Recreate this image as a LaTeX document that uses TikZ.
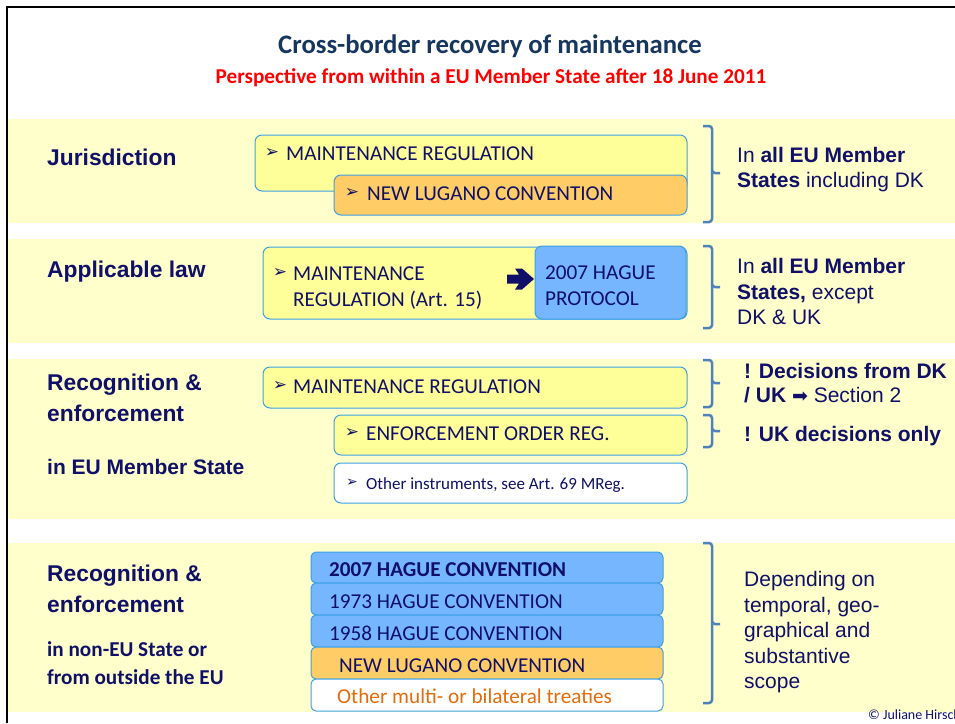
\documentclass[tikz,border=0pt]{standalone}
\usepackage{fontspec}
\setmainfont{Liberation Sans}
\newfontfamily\calfont{Carlito}
\newfontfamily\djvfont{DejaVu Sans}
\definecolor{txtnavy}{RGB}{16,16,104}
\definecolor{titleblue}{RGB}{23,54,93}
\definecolor{bandY}{RGB}{255,255,204}
\definecolor{boxY}{RGB}{255,255,153}
\definecolor{boxO}{RGB}{255,204,102}
\definecolor{boxB}{RGB}{117,182,255}
\definecolor{boxline}{RGB}{60,160,230}
\definecolor{bracecol}{RGB}{79,129,189}
\definecolor{orangetxt}{RGB}{228,108,10}
\begin{document}
\begin{tikzpicture}[x=1pt,y=-1pt,
  boxnode/.style={draw=boxline, line width=1pt, rounded corners=7pt, anchor=north west, inner sep=0pt, outer sep=0pt},
  lbl/.style={anchor=base west, inner sep=0pt, text=txtnavy, font=\bfseries\fontsize{22.8}{26}\selectfont},
  lblsmall/.style={anchor=base west, inner sep=0pt, text=txtnavy, font=\bfseries\fontsize{21}{25}\selectfont},
  lblcal/.style={anchor=base west, inner sep=0pt, text=txtnavy, font=\calfont\bfseries\fontsize{21.2}{25}\selectfont},
  boxtxt/.style={anchor=base west, inner sep=0pt, text=txtnavy, font=\calfont\fontsize{21.2}{24}\selectfont},
  rtxt/.style={anchor=base west, inner sep=0pt, text=txtnavy, font=\fontsize{21}{24}\selectfont},
  bullet/.style={anchor=center, inner sep=0pt, text=txtnavy, font=\djvfont\fontsize{17}{17}\selectfont},
  bracepath/.style={draw=bracecol, line width=2.5pt, rounded corners=3pt}
]
\useasboundingbox (0,0) rectangle (955,723);
\fill[white] (0,0) rectangle (955,723);

% bands
\fill[bandY] (8,119) rectangle (955,223);
\fill[bandY] (8,239) rectangle (955,343);
\fill[bandY] (8,359) rectangle (955,519);
\fill[bandY] (8,543) rectangle (955,712);

% frame
\draw[line width=2.5pt] (7,723) -- (7,7) -- (960,7);

% titles
\node[anchor=base, inner sep=0pt, text=titleblue, font=\calfont\bfseries\fontsize{26.7}{30}\selectfont] (title) at (490,53) {Cross-border recovery of maintenance};
\node[anchor=base, inner sep=0pt, text=red, font=\calfont\bfseries\fontsize{21.2}{24}\selectfont] (subtitle) at (491,83) {Perspective from within a EU Member State after 18 June 2011};

% ---------- Band 1: Jurisdiction
\node[lbl] (jur) at (47,165) {Jurisdiction};
\node[boxnode, fill=boxY, minimum width=432pt, minimum height=56pt] (j1) at (255,135) {};
\node[boxnode, fill=boxO, minimum width=353pt, minimum height=40pt] (j2) at (334,175) {};
\node[bullet] (j1b) at (272,153) {➢};
\node[boxtxt] (j1t) at (286,160) {MAINTENANCE REGULATION};
\node[bullet] (j2b) at (352,193) {➢};
\node[boxtxt] (j2t) at (367,200) {NEW LUGANO CONVENTION};
\draw[bracepath] (703,126) -- (712,126) -- (712,173) -- (720,173);
\draw[bracepath] (712,170) -- (712,222) -- (703,222);
\node[rtxt] (j3) at (737,162.5) {In \textbf{all EU Member}};
\node[rtxt] (j4) at (737,187.5) {\textbf{States} including DK};

% ---------- Band 2: Applicable law
\node[lbl] (app) at (47,277) {Applicable law};
\node[boxnode, fill=boxY, minimum width=424pt, minimum height=72pt] (a1) at (263,247) {};
\node[boxnode, fill=boxB, minimum width=151pt, minimum height=73pt] (a2) at (535,246) {};
\node[bullet] (a1b) at (280,273) {➢};
\node[boxtxt] (a1t) at (293,280) {MAINTENANCE};
\node[boxtxt] (a1u) at (293,306) {REGULATION (Art. 15)};
\coordinate (arrowbase) at (507,279);
\fill[txtnavy] (arrowbase) ++(0,-4.5) -- ++(12,0) -- ++(-4,-6) -- ++(7,0) -- ++(12,10.5)
   -- ++(-12,10.5) -- ++(-7,0) -- ++(4,-6) -- ++(-12,0) -- cycle;
\node[boxtxt] (a2t) at (545,279) {2007 HAGUE};
\node[boxtxt] (a2u) at (545,305) {PROTOCOL};
\draw[bracepath] (703,246) -- (712,246) -- (712,287) -- (720,287);
\draw[bracepath] (712,284) -- (712,328) -- (703,328);
\node[rtxt] (a3) at (737,273.5) {In \textbf{all EU Member}};
\node[rtxt] (a4) at (737,299.5) {\textbf{States,} except};
\node[rtxt] (a5) at (737,324.5) {DK \& UK};

% ---------- Band 3: Recognition in EU
\node[lbl] (r1) at (47,390) {Recognition \&};
\node[lbl] (r2) at (47,421) {enforcement};
\node[lblsmall] (r3) at (47,474.5) {in EU Member State};
\node[boxnode, fill=boxY, minimum width=424pt, minimum height=41pt] (m1) at (263,367) {};
\node[boxnode, fill=boxY, minimum width=353pt, minimum height=40pt] (m2) at (334,415) {};
\node[boxnode, fill=white, minimum width=353pt, minimum height=40pt] (m3) at (334,463) {};
\node[bullet] (m1b) at (280,386) {➢};
\node[boxtxt] (m1t) at (293,393) {MAINTENANCE REGULATION};
\node[bullet] (m2b) at (352,433) {➢};
\node[boxtxt] (m2t) at (366,440) {ENFORCEMENT ORDER REG.};
\node[bullet, font=\djvfont\fontsize{14}{14}\selectfont] (m3b) at (352,483) {➢};
\node[boxtxt, font=\calfont\fontsize{17}{20}\selectfont] (m3t) at (366,489.5) {Other instruments, see Art. 69 MReg.};
\draw[bracepath] (703,360) -- (712,360) -- (712,383) -- (720,383);
\draw[bracepath] (712,380) -- (712,407) -- (703,407);
\draw[bracepath] (703,415) -- (712,415) -- (712,431) -- (720,431);
\draw[bracepath] (712,428) -- (712,447) -- (703,447);
\node[rtxt] (m4) at (744,378.5) {\textbf{! Decisions from DK}};
\node[rtxt] (m5) at (744,402.5) {\textbf{/ UK} {\djvfont\fontsize{19}{19}\selectfont ➡} Section 2};
\node[rtxt] (m6) at (744,441.5) {\textbf{! UK decisions only}};

% ---------- Band 4: Recognition outside EU
\node[lbl] (n1) at (47,581) {Recognition \&};
\node[lbl] (n2) at (47,612) {enforcement};
\node[lblcal] (n3) at (47,656) {in non-EU State or};
\node[lblcal] (n4) at (47,684) {from outside the EU};
\node[boxnode, rounded corners=5pt, fill=boxB, minimum width=352pt, minimum height=31pt] (s1) at (311,552) {};
\node[boxnode, rounded corners=5pt, fill=boxB, minimum width=352pt, minimum height=32pt] (s2) at (311,583) {};
\node[boxnode, rounded corners=5pt, fill=boxB, minimum width=352pt, minimum height=32pt] (s3) at (311,615) {};
\node[boxnode, rounded corners=5pt, fill=boxO, minimum width=352pt, minimum height=32pt] (s4) at (311,647) {};
\node[boxnode, rounded corners=5pt, fill=white, minimum width=352pt, minimum height=32pt] (s5) at (311,679) {};
\node[boxtxt, font=\calfont\bfseries\fontsize{21.2}{25}\selectfont] (s1t) at (329,576) {2007 HAGUE CONVENTION};
\node[boxtxt] (s2t) at (329,608) {1973 HAGUE CONVENTION};
\node[boxtxt] (s3t) at (329,640) {1958 HAGUE CONVENTION};
\node[boxtxt] (s4t) at (339,672) {NEW LUGANO CONVENTION};
\node[boxtxt, text=orangetxt] (s5t) at (337,703) {Other multi- or bilateral treaties};
\draw[bracepath] (703,543) -- (712,543) -- (712,624) -- (720,624);
\draw[bracepath] (712,621) -- (712,703) -- (703,703);
\node[rtxt] (d1) at (744,586.5) {Depending on};
\node[rtxt] (d2) at (744,612.5) {temporal, geo-};
\node[rtxt] (d3) at (744,637.5) {graphical and};
\node[rtxt] (d4) at (744,663) {substantive};
\node[rtxt] (d5) at (744,688.5) {scope};

% copyright
\node[anchor=base west, inner sep=0pt, text=txtnavy, font=\calfont\fontsize{14}{16}\selectfont] (copy) at (868,719) {© Juliane Hirsch};
\end{tikzpicture}
\end{document}
